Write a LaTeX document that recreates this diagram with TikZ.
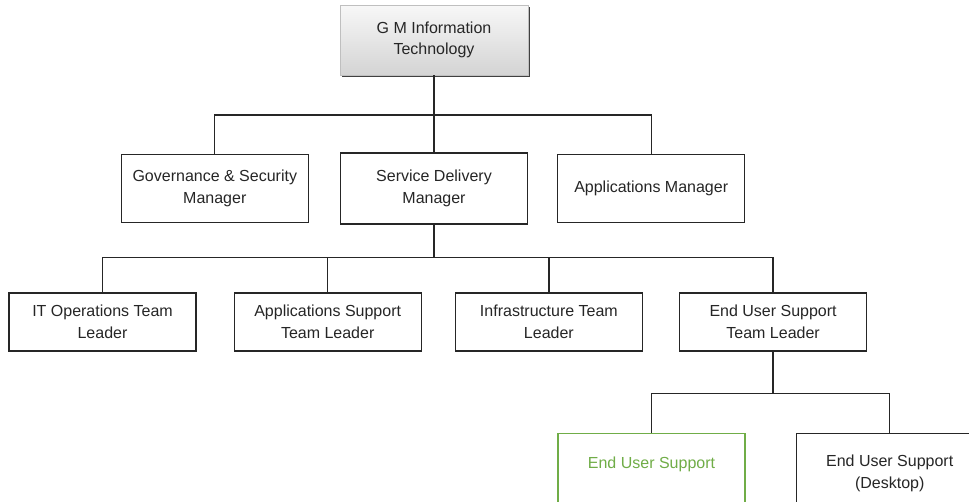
\documentclass[tikz,border=0pt]{standalone}
\usepackage{fontspec}
\setmainfont{Liberation Sans}
\usepackage{tikz}
\usetikzlibrary{positioning,shadows}
\definecolor{leafgreen}{RGB}{112,173,71}
\tikzset{box/.style={rectangle,draw=black!85,line width=1.2pt,fill=white,text=black!85,
		minimum width=187pt,align=center,font=\fontsize{16}{21.5}\selectfont},
}

\begin{document}
\begin{tikzpicture}[x=1pt,y=-1pt,node distance=30pt,
		link/.style={draw=black!85,line width=1.3pt},
		top node/.style={box,draw=black!25,line width=0.6pt,top color=black!3,bottom color=black!17,
			drop shadow={shadow xshift=1.6pt,shadow yshift=-1.6pt,fill=black!75,opacity=1},
			minimum width=188pt,minimum height=70pt}]
		\clip (0,0) rectangle (969,501);
		
		\node[top node] (gm) at (434,40) {G M Information\\Technology};
		\node[box,minimum height=71pt] (svc) [below=77pt of gm] {Service Delivery\\Manager};
		\node[box,minimum height=68pt] (gov) [left=31pt of svc] {Governance \& Security\\Manager};
		\node[box,minimum height=68pt] (apps) [right=29pt of svc] {Applications Manager};
		
		\node[box,minimum height=58pt] (itops) at (102.5,322) {IT Operations Team\\Leader};
		\node[box,minimum height=58pt] (appsup) [right=37pt of itops] {Applications Support\\Team Leader};
		\node[box,minimum height=58pt] (infra) [right=33pt of appsup] {Infrastructure Team\\Leader};
		\node[box,minimum height=58pt] (eus) [right=36pt of infra] {End User Support\\Team Leader};
		
		\node[box,anchor=north,minimum height=80pt,draw=leafgreen,text=leafgreen] (eusa) at (651.5,433) {End User Support\\~};
		\node[box,minimum height=80pt] (desk) [right=50pt of eusa] {End User Support\\(Desktop)};
		
		% connectors
		\draw[link] (gm.south) -- (svc.north);
		\draw[link] (gov.north) |- (gm.south |- 0,115) -| (apps.north);
		\draw[link] (svc.south) -- ++(0,33) coordinate (bar2);
		\draw[link] (itops.north) |- (bar2) -| (eus.north);
		\draw[link] (appsup.north) -- (appsup.north |- bar2);
		\draw[link] (infra.north) -- (infra.north |- bar2);
		\draw[link] (eus.south) -- ++(0,42) coordinate (bar3);
		\draw[link] (eusa.north) |- (bar3) -| (desk.north);
\end{tikzpicture}
\end{document}
